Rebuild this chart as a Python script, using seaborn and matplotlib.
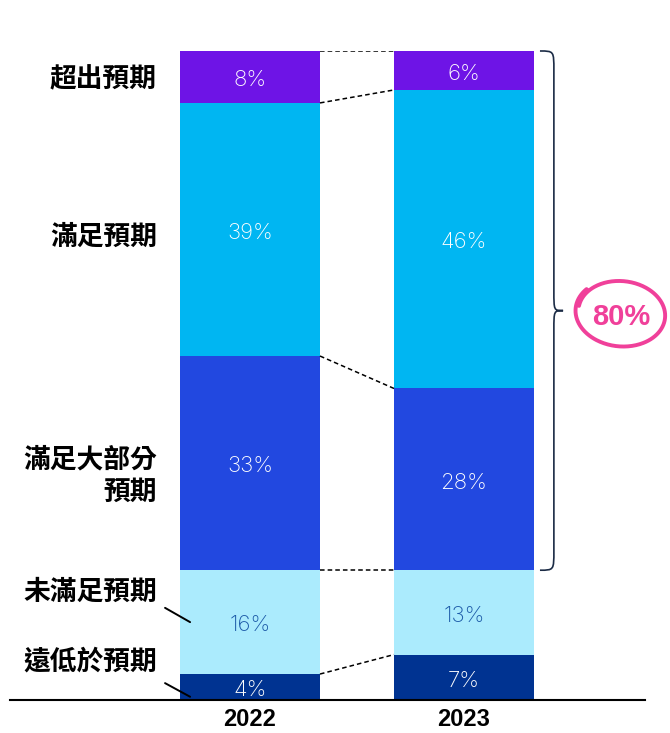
import numpy as np
import pandas as pd
import matplotlib
matplotlib.use("Agg")
import matplotlib.pyplot as plt
import seaborn as sns
from matplotlib.path import Path
from matplotlib.patches import PathPatch

# ---- data ----
years = ["2022", "2023"]
categories = ["遠低於預期", "未滿足預期", "滿足大部分預期", "滿足預期", "超出預期"]
category_labels = ["遠低於預期", "未滿足預期", "滿足大部分\n預期", "滿足預期", "超出預期"]
share_2022 = [4, 16, 33, 39, 8]
share_2023 = [7, 13, 28, 46, 6]

# ---- style ----
colors = ["#003391", "#ABEBFD", "#2248E0", "#00B6F2", "#6E14E6"]
value_colors = ["white", "#1C5AA8", "white", "white", "white"]
pink = "#F0409A"

sns.set_theme(style="white")
plt.rcParams["font.family"] = ["Liberation Sans", "Noto Sans CJK TC", "DejaVu Sans"]
cjk = ["Noto Sans CJK TC", "DejaVu Sans"]

df = pd.DataFrame({
    "year": np.repeat(years, len(categories)),
    "category": categories * len(years),
    "share": share_2022 + share_2023,
})
df["top"] = df.groupby("year")["share"].cumsum()
df["bottom"] = df["top"] - df["share"]

fig = plt.figure(figsize=(6.7, 7.33), dpi=100)
ax = fig.add_axes([10 / 670, 33 / 733, 635 / 670, 649 / 733])

bar_w = 0.654
# stacked bars: draw cumulative totals, tallest first
for i in reversed(range(len(categories))):
    sub = df[df["category"] == categories[i]]
    sns.barplot(data=sub, x="year", y="top", order=years, color=colors[i],
                width=bar_w, saturation=1, errorbar=None, linewidth=0,
                edgecolor="none", ax=ax)

# value labels in each segment
for _, row in df.iterrows():
    i = categories.index(row["category"])
    xpos = years.index(row["year"])
    ax.text(xpos, (row["bottom"] + row["top"]) / 2 - 0.5, f"{row['share']}%",
            ha="center", va="center", fontsize=16, color=value_colors[i],
            family=["Inter", "DejaVu Sans"], fontweight="light")

# dashed connectors between segment boundaries
tops22 = df[df["year"] == years[0]]["top"].to_numpy()
tops23 = df[df["year"] == years[1]]["top"].to_numpy()
for a, b in zip(tops22, tops23):
    ax.plot([bar_w / 2, 1 - bar_w / 2], [a, b], color="black", lw=1.1,
            ls=(0, (3, 2)))

# curly brace over the upper three groups of the second year
grp_bottom = df[(df["year"] == years[1]) & (df["category"] == categories[2])]["bottom"].iloc[0]
grp_top = tops23[-1]
grp_mid = (grp_bottom + grp_top) / 2
x0, x1, x2, ry = 1.355, 1.420, 1.463, 3.0
verts = [
    (x0, grp_top), (x1, grp_top), (x1, grp_top), (x1, grp_top - ry),
    (x1, grp_mid + ry),
    (x1, grp_mid), (x1, grp_mid), (x2, grp_mid),
    (x1, grp_mid), (x1, grp_mid), (x1, grp_mid - ry),
    (x1, grp_bottom + ry),
    (x1, grp_bottom), (x1, grp_bottom), (x0, grp_bottom),
]
codes = [Path.MOVETO, Path.CURVE4, Path.CURVE4, Path.CURVE4, Path.LINETO,
         Path.CURVE4, Path.CURVE4, Path.CURVE4,
         Path.CURVE4, Path.CURVE4, Path.CURVE4, Path.LINETO,
         Path.CURVE4, Path.CURVE4, Path.CURVE4]
ax.add_patch(PathPatch(Path(verts, codes), facecolor="none", edgecolor="#1B2B45",
                       lw=1.2, clip_on=False))

# highlighted total with a hand-drawn loop
total = sum(share_2023[2:])
cx, cy = 1.734, grp_mid
ax.text(cx, cy - 1.0, f"{total}%", ha="center", va="center", fontsize=21,
        fontweight="bold", color=pink)
t = np.linspace(2.5, 2.5 + 2 * np.pi + 0.55, 300)
shrink = 1 - 0.07 * (t - t[0]) / (t[-1] - t[0])
rot = np.deg2rad(-6)
px = 46 * np.cos(t) * shrink
py = 34 * np.sin(t) * shrink
rx = px * np.cos(rot) - py * np.sin(rot)
ryy = px * np.sin(rot) + py * np.cos(rot)
ax.plot(cx + rx / 214, cy - 0.4 + ryy / 6.49, color=pink, lw=2.8,
        solid_capstyle="round", clip_on=False)

# category labels on the left
label_y = [6.0, 16.6, 34.5, 71.3, 95.7]
for lab, y in zip(category_labels, label_y):
    ax.text(-0.435, y, lab, ha="right", va="center", multialignment="right",
            fontsize=19.3, fontweight="bold", color="black", family=cjk,
            linespacing=1.2)

# leader lines for the two small groups
ax.plot([-0.397, -0.28], [14.2, 12.0], color="black", lw=1.4, zorder=5)
ax.plot([-0.397, -0.28], [2.6, 0.5], color="black", lw=1.4, zorder=5)

ax.set_xlim((10 - 250) / 214, (645 - 250) / 214)
ax.set_ylim(0, 100)
ax.set_xlabel("")
ax.set_ylabel("")
ax.set_yticks([])
for s in ["top", "left", "right"]:
    ax.spines[s].set_visible(False)
ax.spines["bottom"].set_color("black")
ax.spines["bottom"].set_linewidth(1.5)
ax.spines["bottom"].set_zorder(6)
ax.tick_params(axis="x", length=0, pad=6, labelsize=17)
for lbl in ax.get_xticklabels():
    lbl.set_fontweight("bold")
    lbl.set_color("black")

fig.savefig("out.png", dpi=100)
